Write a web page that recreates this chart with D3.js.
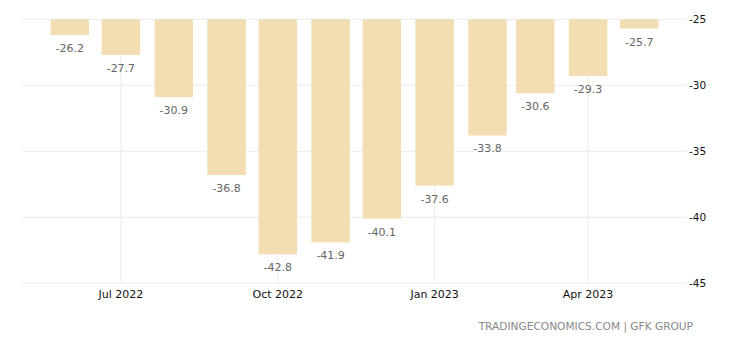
<!DOCTYPE html>
<html>
<head>
<meta charset="utf-8">
<script src="https://cdn.jsdelivr.net/npm/d3@7"></script>
<style>
  html, body { margin: 0; padding: 0; background: #fff; }
  svg { display: block; }
  text { font-family: "DejaVu Sans", Verdana, sans-serif; }
</style>
</head>
<body>
<div id="chart"></div>
<script>
// Monthly consumer confidence readings
const months = ["2022-06", "2022-07", "2022-08", "2022-09", "2022-10", "2022-11",
                "2022-12", "2023-01", "2023-02", "2023-03", "2023-04", "2023-05"];
const values = [-26.2, -27.7, -30.9, -36.8, -42.8, -41.9, -40.1, -37.6, -33.8, -30.6, -29.3, -25.7];
const yTicks = [-25, -30, -35, -40, -45];
const xTickMonths = ["2022-07", "2022-10", "2023-01", "2023-04"];
const source = "TRADINGECONOMICS.COM | GFK GROUP";

const W = 740, H = 345;
const plotLeft = 22, plotRight = 687, plotTop = 19.3, plotBottom = 283.3;

const parse = d3.timeParse("%Y-%m");
const dates = months.map(parse);

const x = d3.scaleTime()
  .domain([d3.timeDay.offset(dates[0], -28), d3.timeDay.offset(dates[dates.length - 1], 28)])
  .range([plotLeft, plotRight]);
const y = d3.scaleLinear().domain([-25, -45]).range([plotTop, plotBottom]);

const svg = d3.select("#chart").append("svg").attr("width", W).attr("height", H);

// horizontal grid
svg.append("g").selectAll("line").data(yTicks).join("line")
  .attr("x1", plotLeft).attr("x2", plotRight)
  .attr("y1", d => y(d)).attr("y2", d => y(d))
  .attr("stroke", "#ececec").attr("stroke-width", 1);

// vertical grid at quarter ticks
const xTickDates = xTickMonths.map(parse);
svg.append("g").selectAll("line").data(xTickDates).join("line")
  .attr("x1", d => x(d)).attr("x2", d => x(d))
  .attr("y1", plotTop).attr("y2", plotBottom)
  .attr("stroke", "#ececec").attr("stroke-width", 1);

// bars hanging from the top of the scale
const barW = 38.5;
svg.append("g").selectAll("rect").data(values).join("rect")
  .attr("x", (d, i) => x(dates[i]) - barW / 2)
  .attr("width", barW)
  .attr("y", y(-25))
  .attr("height", d => y(d) - y(-25))
  .attr("fill", "#f3ddb2");

// value labels
svg.append("g").selectAll("text").data(values).join("text")
  .attr("x", (d, i) => x(dates[i]))
  .attr("y", d => y(d) + 17)
  .attr("text-anchor", "middle")
  .attr("font-size", 11)
  .attr("fill", "#666")
  .text(d => d.toFixed(1));

// right-hand y axis labels
svg.append("g").selectAll("text").data(yTicks).join("text")
  .attr("x", plotRight + 2)
  .attr("y", d => y(d) + 4)
  .attr("font-size", 10.5)
  .attr("fill", "#111")
  .text(d => d);

// x axis labels
const fmt = d3.timeFormat("%b %Y");
svg.append("g").selectAll("text").data(xTickDates).join("text")
  .attr("x", d => x(d))
  .attr("y", 298)
  .attr("text-anchor", "middle")
  .attr("font-size", 11)
  .attr("fill", "#111")
  .text(d => fmt(d));

// source line
svg.append("text")
  .attr("x", 693).attr("y", 330)
  .attr("text-anchor", "end")
  .attr("font-size", 10.6)
  .attr("fill", "#888")
  .text(source);
</script>
</body>
</html>
